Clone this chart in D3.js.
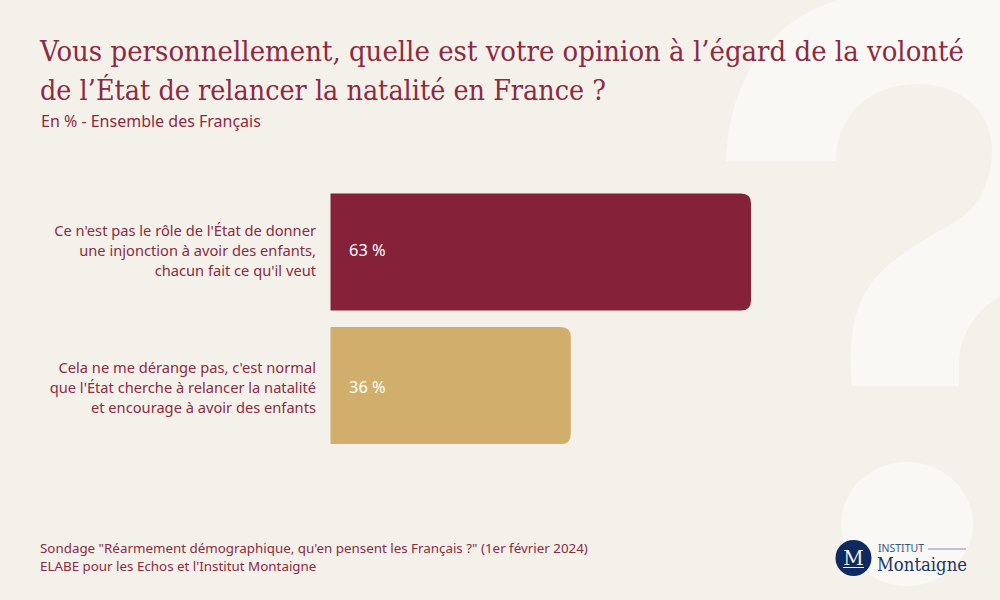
<!DOCTYPE html>
<html>
<head>
<meta charset="utf-8">
<script src="https://cdn.jsdelivr.net/npm/d3@7"></script>
<style>
  html, body { margin: 0; padding: 0; background: #f4f1eb; }
  svg { display: block; }
  text { font-family: "Noto Sans", sans-serif; }
</style>
</head>
<body>
<div id="main"></div>
<script>
var WIDTH = 1000
var HEIGHT = 600

// data
var categories = ["nonRole", "normal"]
var values = [63, 36]
var barColors = ["#852139", "#d1ae6b"]
var categoryLabels = [
    ["Ce n'est pas le rôle de l'État de donner", "une injonction à avoir des enfants,", "chacun fait ce qu'il veut"],
    ["Cela ne me dérange pas, c'est normal", "que l'État cherche à relancer la natalité", "et encourage à avoir des enfants"]
]
var titleLines = [
    "Vous personnellement, quelle est votre opinion à l’égard de la volonté",
    "de l’État de relancer la natalité en France ?"
]
var subtitle = "En % - Ensemble des Français"
var sourceLines = [
    "Sondage \"Réarmement démographique, qu'en pensent les Français ?\" (1er février 2024)",
    "ELABE pour les Echos et l'Institut Montaigne"
]

var RED = "#8c2a41"
var SERIF = '"DejaVu Serif", serif'

const svg = d3.select('#main').append("svg")
    .attr('width', WIDTH)
    .attr('height', HEIGHT)

svg.append('rect')
    .attr('width', WIDTH)
    .attr('height', HEIGHT)
    .attr('fill', '#f4f1eb')

// big question mark in the background
svg.append('path')
    .attr('fill', '#f9f8f4')
    .attr('d', 'M726,161 C730,70 775,20 838,0 L1000,0 L1000,296 C975,312 959,335 959,365 L959,386 L852,386 C849,350 851,320 864,295 C880,262 925,240 955,222 C980,207 992,180 992,150 C992,110 960,84 917,84 C870,84 836,115 836,161 Z')
svg.append('ellipse')
    .attr('cx', 907)
    .attr('cy', 524)
    .attr('rx', 66)
    .attr('ry', 62)
    .attr('fill', '#f9f8f4')

// title
svg.selectAll('text.title')
    .data(titleLines)
    .enter()
    .append('text')
    .attr('class', 'title')
    .attr('x', 40)
    .attr('y', (d, i) => 61 + i * 39)
    .attr('fill', RED)
    .style('font-family', SERIF)
    .style('font-size', '27px')
    .attr('textLength', (d, i) => i == 0 ? 924 : 566)
    .attr('lengthAdjust', 'spacingAndGlyphs')
    .text(d => d)

svg.append('text')
    .attr('x', 41)
    .attr('y', 127)
    .attr('fill', RED)
    .style('font-size', '16px')
    .text(subtitle)

// scales
var x = d3.scaleLinear().domain([0, 100]).range([330.5, 998])
var y = d3.scaleBand().domain(categories).range([193.5, 444]).paddingInner(0.1236)

// bars, rounded on the right only
function barPath(d, i) {
    var x0 = x(0), x1 = x(d), y0 = y(categories[i]), y1 = y0 + y.bandwidth(), r = 10
    return 'M' + x0 + ',' + y0 + 'H' + (x1 - r) + 'Q' + x1 + ',' + y0 + ' ' + x1 + ',' + (y0 + r) +
        'V' + (y1 - r) + 'Q' + x1 + ',' + y1 + ' ' + (x1 - r) + ',' + y1 + 'H' + x0 + 'Z'
}

svg.selectAll('path.bar')
    .data(values)
    .enter()
    .append('path')
    .attr('class', 'bar')
    .attr('d', barPath)
    .attr('fill', (d, i) => barColors[i])

svg.selectAll('text.value')
    .data(values)
    .enter()
    .append('text')
    .attr('class', 'value')
    .attr('x', x(0) + 18.5)
    .attr('y', (d, i) => y(categories[i]) + y.bandwidth() / 2 + 4.5 + i * 3)
    .attr('fill', '#fff')
    .style('font-size', '16.4px')
    .text(d => d + ' %')

// category labels
categoryLabels.forEach(function (lines, i) {
    svg.selectAll('text.cat' + i)
        .data(lines)
        .enter()
        .append('text')
        .attr('class', 'cat' + i)
        .attr('x', 316)
        .attr('y', (d, j) => y(categories[i]) + y.bandwidth() / 2 + (j - 1) * 20 + 4.5 + i * 2.5)
        .attr('text-anchor', 'end')
        .attr('fill', RED)
        .style('font-size', '14.67px')
        .text(d => d)
})

// source
svg.selectAll('text.source')
    .data(sourceLines)
    .enter()
    .append('text')
    .attr('x', 40)
    .attr('class', 'source')
    .attr('y', (d, i) => 553 + i * 18)
    .attr('fill', RED)
    .style('font-size', '13.37px')
    .text(d => d)

// logo
var logo = svg.append('g')
logo.append('circle')
    .attr('cx', 853.5)
    .attr('cy', 558)
    .attr('r', 18)
    .attr('fill', '#0f2a5e')
logo.append('text')
    .attr('x', 853.5)
    .attr('y', 565)
    .attr('text-anchor', 'middle')
    .attr('fill', '#f4f1eb')
    .style('font-family', SERIF)
    .style('font-size', '20px')
    .text('M')
logo.append('line')
    .attr('x1', 843).attr('x2', 864)
    .attr('y1', 567.5).attr('y2', 567.5)
    .attr('stroke', '#f4f1eb')
    .attr('stroke-width', 1)
logo.append('text')
    .attr('x', 878)
    .attr('y', 552)
    .attr('fill', '#3a5488')
    .style('font-size', '10px')
    .attr('textLength', 46)
    .attr('lengthAdjust', 'spacingAndGlyphs')
    .text('INSTITUT')
logo.append('line')
    .attr('x1', 928).attr('x2', 966)
    .attr('y1', 549).attr('y2', 549)
    .attr('stroke', '#a3afc8')
    .attr('stroke-width', 1.5)
logo.append('text')
    .attr('x', 877)
    .attr('y', 571)
    .attr('fill', '#1c3566')
    .style('font-family', SERIF)
    .style('font-size', '18px')
    .attr('textLength', 90)
    .attr('lengthAdjust', 'spacingAndGlyphs')
    .text('Montaigne')
</script>
</body>
</html>
